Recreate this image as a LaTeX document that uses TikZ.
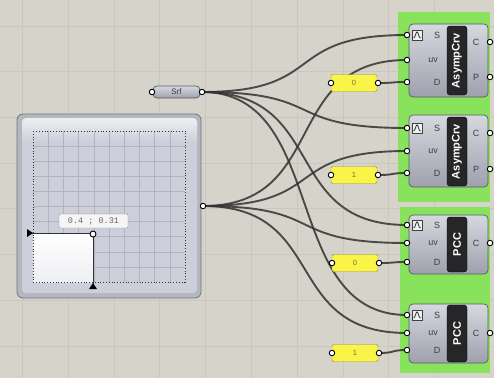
\documentclass[tikz,border=0pt]{standalone}
\usepackage{fontspec}
\setmainfont{Liberation Sans}
\setmonofont{Liberation Mono}
\usetikzlibrary{calc}
\definecolor{canvas}{RGB}{214,211,203}
\definecolor{canvasline}{RGB}{202,199,191}
\definecolor{grpgreen}{RGB}{137,226,92}
\definecolor{wirec}{RGB}{50,50,50}
\definecolor{bodytop}{RGB}{214,216,223}
\definecolor{bodybot}{RGB}{158,161,173}
\definecolor{bodyline}{RGB}{88,90,98}
\definecolor{namebox}{RGB}{38,38,40}
\definecolor{labelc}{RGB}{60,60,64}
\definecolor{panelyel}{RGB}{250,244,72}
\definecolor{panelline}{RGB}{150,146,60}
\definecolor{paneltext}{RGB}{120,118,50}
\definecolor{sliderframe}{RGB}{180,182,192}
\definecolor{sliderline}{RGB}{115,117,127}
\definecolor{sliderbg}{RGB}{204,207,217}
\definecolor{sliderhi}{RGB}{238,239,242}
\definecolor{slidergrid}{RGB}{176,180,194}
\pgfdeclarelayer{canvaslayer}
\pgfdeclarelayer{wirelayer}
\pgfsetlayers{canvaslayer,wirelayer,main}
\newcommand\ghwire[2]{%
  \draw[wire] let \p1=(#1), \p2=(#2), \n1={0.62*(\x2-\x1)} in
    (\p1) .. controls +(\n1,0) and +(-\n1,0) .. (\p2);}
\begin{document}
\begin{tikzpicture}[x=1pt,y=-1pt,
  comp/.style={draw=bodyline,line width=0.7pt,rounded corners=4pt,top color=bodytop,bottom color=bodybot,minimum width=79pt,inner sep=0pt},
  compname/.style={fill=namebox,draw=black,rounded corners=3pt,rotate=90,minimum height=20pt,inner sep=0pt,text=white,font=\fontsize{11}{11}\selectfont\bfseries},
  grip/.style={circle,draw=black,fill=white,line width=0.9pt,inner sep=0pt,minimum size=5.5pt},
  plabel/.style={font=\fontsize{9}{9}\selectfont,text=labelc,inner sep=0pt},
  numpanel/.style={draw=panelline,fill=panelyel,rounded corners=1.5pt,minimum width=46pt,minimum height=17pt,inner sep=0pt,font=\fontsize{7.5}{7.5}\selectfont,text=paneltext},
  wire/.style={draw=wirec,line width=1.9pt,opacity=0.85}]
  \useasboundingbox (0,0) rectangle (494,378);
  % canvas, grid and groups
  \begin{pgfonlayer}{canvaslayer}
  \fill[canvas] (0,0) rectangle (494,378);
  \foreach \k in {0,...,9} \draw[canvasline,line width=0.8pt] ({22.4+45.8*\k},0) -- ++(0,378);
  \foreach \k in {0,...,7} \draw[canvasline,line width=0.8pt] (0,{26+45.7*\k}) -- ++(494,0);
  \fill[grpgreen] (398,12) rectangle (490,202);
  \fill[grpgreen] (400,207) rectangle (490,373);
  \end{pgfonlayer}

  % surface parameter
  \node[comp,rounded corners=4pt,minimum width=47pt,minimum height=12pt,font=\fontsize{8}{8}\selectfont,text=labelc] (srf) at (176.5,92) {Srf};
  \node[grip] (srfin) at (152,92) {};
  \node[grip] (srfout) at (202,92) {};

  % uv slider
  \node[draw=sliderline,fill=sliderframe,rounded corners=6pt,minimum width=184pt,minimum height=184pt,line width=0.8pt] (uvsl) at (109,206) {};
  \fill[sliderbg,rounded corners=4pt] (22,118) rectangle (197,293);
  \shade[top color=sliderhi,bottom color=sliderbg,rounded corners=4pt] (22,118) rectangle (197,142);
  \foreach \k in {1,...,9} {
    \draw[slidergrid,line width=0.6pt] ({33+15.2*\k},131) -- ++(0,151);
    \draw[slidergrid,line width=0.6pt] (33,{131+15.1*\k}) -- ++(152,0);
  }
  \shade[top color=white,bottom color=sliderhi] (33,233) rectangle (93,282);
  \draw[black!80,dotted,line width=0.8pt] (33,131) rectangle (185,282);
  \draw[black!80,line width=0.7pt] (28,233) -- (93,233) -- (93,288);
  \fill[black] (27,229) -- (33,233) -- (27,237) -- cycle;
  \fill[black] (89,289) -- (93,283) -- (97,289) -- cycle;
  \node[draw=black!45,fill=black!4,rounded corners=1pt,minimum width=69pt,minimum height=14pt,inner sep=0pt,font=\ttfamily\fontsize{8.5}{8.5}\selectfont,text=black!60] (uvtip) at (93.5,221) {0.4 ; 0.31};
  \node[grip,minimum size=6pt] (uvpt) at (93,234) {};
  \node[grip] (uvslout) at (203,206) {};

  % number panels
  \node[numpanel] (num1) at (354,83) {0};
  \node[numpanel] (num2) at (354,175) {1};
  \node[numpanel] (num3) at (355,263) {0};
  \node[numpanel] (num4) at (355,353) {1};
  \foreach \n/\px/\py in {1/354/83,2/354/175,3/355/263,4/355/353} {
    \node[grip] (num\n in) at (\px-23,\py) {};
    \node[grip] (num\n out) at (\px+24,\py) {};
  }

  % components
  \node[comp,minimum height=73pt] (c1) at (448.5,60.5) {};
  \node[comp,minimum height=72pt] (c2) at (448.5,151) {};
  \node[comp,minimum height=59pt] (c3) at (448.5,244.5) {};
  \node[comp,minimum height=59pt] (c4) at (448.5,333.5) {};
  \node[compname,minimum width=69pt] (c1name) at (457,60.5) {AsympCrv};
  \node[compname,minimum width=69pt] (c2name) at (457,151.5) {AsympCrv};
  \node[compname,minimum width=55pt] (c3name) at (457,244.5) {PCC};
  \node[compname,minimum width=57pt] (c4name) at (457,333.5) {PCC};
  \foreach \iy in {35,128,225,315} {
    \draw[draw=black!75,fill=black!6,line width=0.6pt] (412,\iy-5) rectangle (422,\iy+5);
    \draw[black!80,line width=0.8pt] (413.5,\iy+3) .. controls (415.5,\iy+3) and (415.5,\iy-3) .. (417,\iy-3) .. controls (418.5,\iy-3) and (418.5,\iy+3) .. (420.5,\iy+3);
  }
  \foreach \c/\sy/\uy/\dy in {1/35/60/82,2/128/151/173,3/225/243/262,4/315/333/350} {
    \node[plabel] (c\c sl) at (437,\sy) {S};
    \node[plabel] (c\c ul) at (433,\uy) {uv};
    \node[plabel] (c\c dl) at (437,\dy) {D};
    \node[grip] (c\c s) at (407,\sy) {};
    \node[grip] (c\c uv) at (407,\uy) {};
    \node[grip] (c\c d) at (407,\dy) {};
  }
  \foreach \c/\cy in {1/42,2/133,3/243,4/333} {
    \node[plabel] (c\c cl) at (476,\cy) {C};
    \node[grip] (c\c c) at (490,\cy) {};
  }
  \foreach \c/\py in {1/77,2/169} {
    \node[plabel] (c\c pl) at (476,\py) {P};
    \node[grip] (c\c p) at (490,\py) {};
  }

  % wires
  \begin{pgfonlayer}{wirelayer}
  \foreach \c in {1,...,4} {
    \ghwire{srfout.center}{c\c s.center}
    \ghwire{uvslout.center}{c\c uv.center}
    \ghwire{num\c out.center}{c\c d.center}
  }
  \end{pgfonlayer}
\end{tikzpicture}
\end{document}
